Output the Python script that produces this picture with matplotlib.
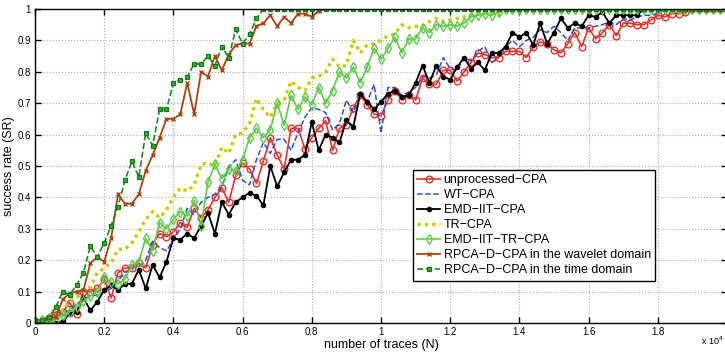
import numpy as np
import matplotlib
matplotlib.use('Agg')
import matplotlib.pyplot as plt

# x axis in units of 1e4 traces, one value every 0.02
n_traces = np.round(np.arange(0, 2.0001, 0.02), 2)

# success rate (series stop where they reach 1, padded below)
sr_unprocessed = [0.0, 0.0, 0.015, 0.035, 0.035, 0.065, 0.03, 0.10, 0.10, 0.11,
                  0.14, 0.08, 0.16, 0.175, 0.175, 0.19, 0.175, 0.25, 0.285, 0.275,
                  0.29, 0.32, 0.305, 0.365, 0.335, 0.36, 0.40, 0.43, 0.385, 0.47,
                  0.51, 0.49, 0.445, 0.515, 0.59, 0.535, 0.49, 0.62, 0.62, 0.555,
                  0.59, 0.62, 0.645, 0.55, 0.62, 0.63, 0.685, 0.725, 0.695, 0.665,
                  0.66, 0.71, 0.74, 0.71, 0.725, 0.71, 0.78, 0.76, 0.76, 0.805,
                  0.805, 0.77, 0.80, 0.83, 0.86, 0.855, 0.845, 0.845, 0.865, 0.865,
                  0.865, 0.845, 0.88, 0.895, 0.89, 0.87, 0.86, 0.89, 0.925, 0.88,
                  0.94, 0.905, 0.925, 0.95, 0.915, 0.955, 0.955, 0.95, 0.95, 0.965,
                  0.98, 0.975, 0.985, 0.985, 0.99]
sr_wt = [0.0, 0.005, 0.01, 0.02, 0.03, 0.04, 0.06, 0.075, 0.085, 0.09,
         0.10, 0.11, 0.135, 0.16, 0.175, 0.18, 0.20, 0.26, 0.24, 0.23,
         0.265, 0.30, 0.365, 0.345, 0.385, 0.40, 0.41, 0.435, 0.495, 0.52,
         0.455, 0.44, 0.52, 0.575, 0.54, 0.585, 0.585, 0.55, 0.605, 0.655,
         0.685, 0.68, 0.67, 0.615, 0.635, 0.71, 0.67, 0.73, 0.705, 0.76,
         0.605, 0.75, 0.75, 0.725, 0.735, 0.75, 0.785, 0.78, 0.79, 0.845,
         0.81, 0.805, 0.845, 0.835, 0.865, 0.88, 0.83, 0.845, 0.88, 0.90,
         0.88, 0.90, 0.91, 0.935, 0.925, 0.945, 0.925, 0.90, 0.94, 0.94,
         0.94, 0.945, 0.95, 0.96, 0.95, 0.97, 0.965, 0.975, 0.98, 0.98,
         0.985]
sr_emd = [0.0, 0.0, 0.0, 0.0, 0.005, 0.03, 0.035, 0.08, 0.04, 0.067,
          0.105, 0.12, 0.105, 0.125, 0.125, 0.17, 0.11, 0.185, 0.145, 0.195,
          0.27, 0.265, 0.285, 0.27, 0.31, 0.35, 0.285, 0.385, 0.345, 0.385,
          0.40, 0.415, 0.405, 0.375, 0.50, 0.435, 0.48, 0.52, 0.52, 0.535,
          0.64, 0.55, 0.60, 0.59, 0.575, 0.645, 0.625, 0.73, 0.705, 0.68,
          0.705, 0.73, 0.74, 0.72, 0.725, 0.765, 0.82, 0.765, 0.82, 0.785,
          0.775, 0.815, 0.845, 0.81, 0.83, 0.805, 0.86, 0.86, 0.88, 0.925,
          0.91, 0.925, 0.885, 0.955, 0.89, 0.925, 0.97, 0.94, 0.955, 0.945,
          0.98, 0.975, 0.99, 0.955, 0.98, 0.98, 0.98, 0.98]
sr_tr = [0.0, 0.01, 0.01, 0.02, 0.04, 0.07, 0.08, 0.10, 0.115, 0.16,
         0.175, 0.19, 0.235, 0.235, 0.255, 0.29, 0.33, 0.355, 0.335, 0.36,
         0.40, 0.43, 0.42, 0.44, 0.505, 0.51, 0.50, 0.56, 0.54, 0.60,
         0.605, 0.635, 0.715, 0.68, 0.655, 0.70, 0.71, 0.77, 0.75, 0.74,
         0.78, 0.785, 0.80, 0.84, 0.815, 0.82, 0.90, 0.86, 0.885, 0.89,
         0.90, 0.915, 0.92, 0.95, 0.94, 0.945, 0.945, 0.96, 0.97, 0.96,
         0.965, 0.97, 0.975, 0.98, 0.985, 0.99, 0.99, 0.98, 0.995, 0.995,
         0.99]
sr_emd_tr = [0.005, 0.01, 0.0, 0.01, 0.025, 0.035, 0.05, 0.07, 0.085, 0.10,
             0.145, 0.13, 0.125, 0.14, 0.185, 0.195, 0.27, 0.23, 0.32, 0.30,
             0.33, 0.355, 0.34, 0.39, 0.31, 0.45, 0.505, 0.46, 0.49, 0.485,
             0.52, 0.59, 0.62, 0.59, 0.615, 0.70, 0.63, 0.725, 0.68, 0.72,
             0.695, 0.75, 0.70, 0.74, 0.80, 0.78, 0.815, 0.765, 0.815, 0.875,
             0.84, 0.875, 0.91, 0.86, 0.905, 0.905, 0.94, 0.925, 0.95, 0.945,
             0.95, 0.945, 0.955, 0.975, 0.98, 0.985, 0.98, 0.99]
sr_rpca_wav = [0.005, 0.0, 0.015, 0.02, 0.075, 0.095, 0.10, 0.105, 0.19, 0.21,
               0.195, 0.27, 0.41, 0.38, 0.38, 0.41, 0.485, 0.535, 0.59, 0.65,
               0.65, 0.665, 0.765, 0.665, 0.80, 0.785, 0.85, 0.805, 0.855, 0.885,
               0.89, 0.89, 0.945, 0.955, 0.98, 0.945, 0.975, 0.955, 0.985, 0.985,
               0.975, 0.995]
sr_rpca_time = [0.01, 0.01, 0.02, 0.05, 0.10, 0.09, 0.12, 0.16, 0.245, 0.21,
                0.255, 0.31, 0.37, 0.455, 0.515, 0.465, 0.605, 0.565, 0.68, 0.68,
                0.765, 0.775, 0.785, 0.825, 0.825, 0.85, 0.82, 0.88, 0.845, 0.935,
                0.89, 0.92, 0.97]

labels = ['unprocessed\u2212CPA', 'WT\u2212CPA', 'EMD\u2212IIT\u2212CPA', 'TR\u2212CPA',
          'EMD\u2212IIT\u2212TR\u2212CPA', 'RPCA\u2212D\u2212CPA in the wavelet domain',
          'RPCA\u2212D\u2212CPA in the time domain']


def pad(v):
    # after reaching 1 the curves stay at 1 up to the end of the axis
    return np.array(v + [1.0] * (len(n_traces) - len(v)))


plt.rcParams['font.family'] = ['Liberation Sans', 'DejaVu Sans']

fig = plt.figure(figsize=(7.25, 3.52), dpi=100)
ax = fig.add_axes([35 / 725, 29 / 352, 692 / 725, 314 / 352])

ax.plot(n_traces, pad(sr_unprocessed), '-', color='#e8322a', lw=1.2, marker='o',
        ms=4.8, mfc='none', mew=1.0, label=labels[0])
ax.plot(n_traces, pad(sr_wt), '--', color='#2c4fd4', lw=1.1, label=labels[1])
ax.plot(n_traces, pad(sr_emd), '-', color='black', lw=1.3, marker='.', ms=6,
        label=labels[2])
ax.plot(n_traces, pad(sr_tr), color='#cccc00', lw=2.4, ls=(0, (1.0, 1.2)),
        label=labels[3])
ax.plot(n_traces, pad(sr_emd_tr), '-', color='#5ccb48', lw=1.2, marker='d',
        ms=4.8, mfc='none', mew=1.0, label=labels[4])
ax.plot(n_traces, pad(sr_rpca_wav), '-', color='#a8430f', lw=1.3, marker='x',
        ms=3.5, mew=1.0, label=labels[5])
ax.plot(n_traces, pad(sr_rpca_time), '--', color='#1c8a1c', lw=1.2, marker='s',
        ms=3.5, mfc='#3aa83a', mec='#0f7a0f', mew=0.9, label=labels[6])

ax.set_xlim(0, 2)
ax.set_ylim(0, 1)
xt = np.round(np.arange(0, 1.81, 0.2), 1)
ax.set_xticks(xt)
ax.set_xticklabels(['0', '0.2', '0.4', '0.6', '0.8', '1', '1.2', '1.4', '1.6', '1.8'])
yt = np.round(np.arange(0, 1.01, 0.1), 1)
ax.set_yticks(yt)
ax.set_yticklabels(['0'] + ['%.1f' % v for v in yt[1:-1]] + ['1'])
ax.tick_params(direction='in', length=4, width=1, labelsize=7, colors='black',
               top=True, right=True, pad=3)
ax.grid(True, ls=':', color='#aaaaaa', lw=0.8)
for s in ax.spines.values():
    s.set_linewidth(1.0)

ax.set_xlabel('number of traces (N)', fontsize=9, labelpad=1)
ax.set_ylabel('success rate (SR)', fontsize=9, labelpad=2)
fig.text(701 / 725, 1 - 345 / 352, 'x 10$^4$', fontsize=6.5, va='baseline')

leg = ax.legend(loc='upper left', bbox_to_anchor=((413 - 35) / 692, (323 - 170) / 314),
                fontsize=9, frameon=True, fancybox=False, framealpha=1,
                edgecolor='black', borderaxespad=0, labelspacing=0.24,
                handlelength=1.8, handletextpad=0.3, borderpad=0.35)
leg.get_frame().set_linewidth(1.0)

fig.savefig('out.png', dpi=100)
